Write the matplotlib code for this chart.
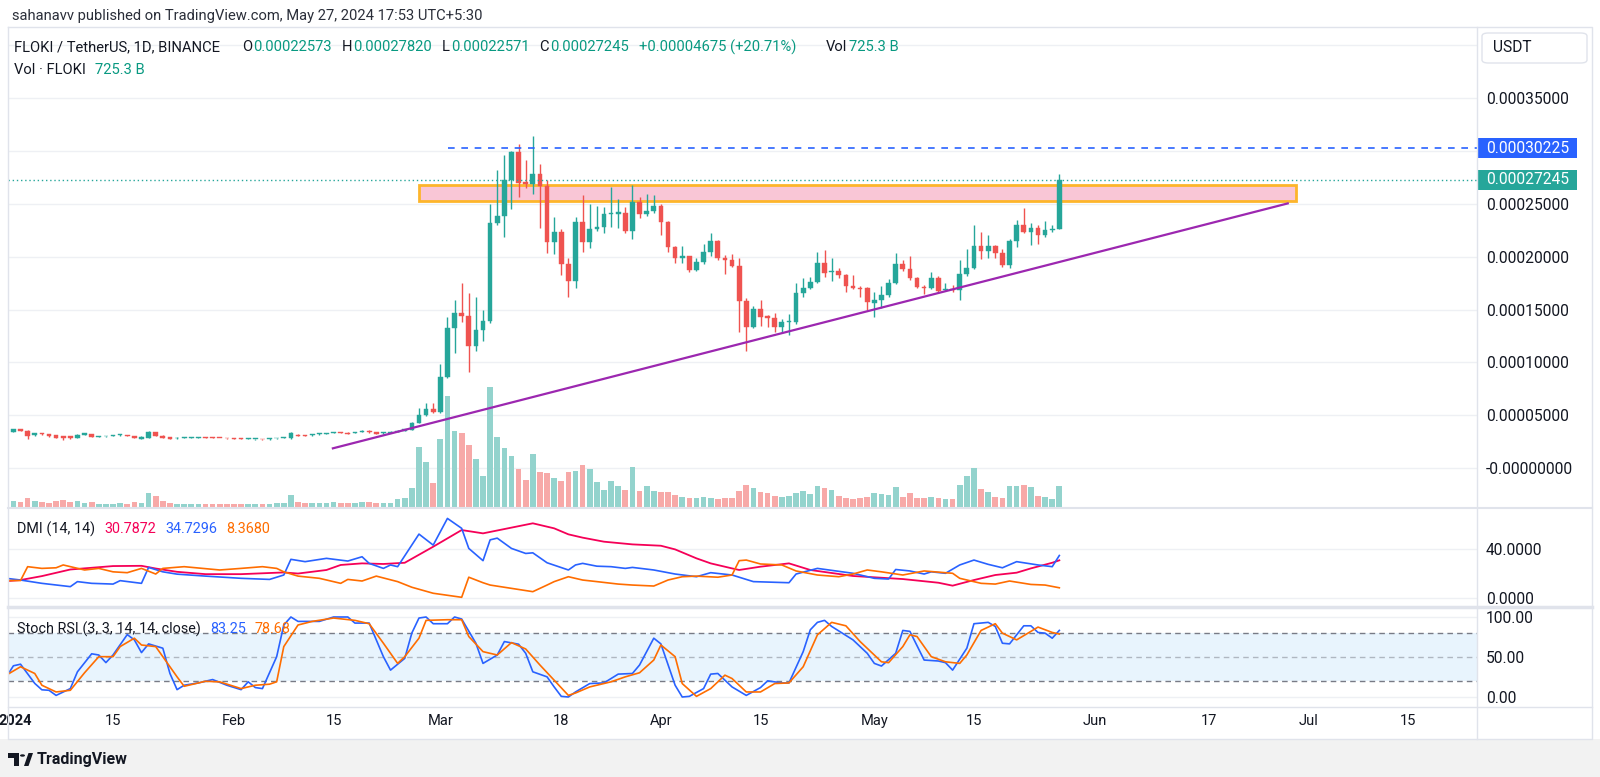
import matplotlib.pyplot as plt
from matplotlib.patches import Rectangle, FancyBboxPatch, Polygon, Circle
from matplotlib.lines import Line2D
from matplotlib.transforms import blended_transform_factory

plt.rcParams['font.family'] = ['Roboto', 'DejaVu Sans']

# ---- daily candles, day 0 = 1 Jan 2024, prices in 1e-6 USDT ----
opens = [34.6, 36.8, 35.2, 31.7, 33.0, 32.0, 31.4, 30.5, 30.5, 28.9,
         31.7, 32.4, 29.9, 30.2, 30.5, 31.1, 31.4, 30.5, 28.0, 28.6,
         33.9, 30.8, 29.2, 28.3, 28.9, 28.9, 29.0, 29.1, 28.8, 28.7,
         28.5, 28.3, 28.0, 27.6, 27.7, 27.8, 27.3, 28.2, 28.6, 28.3,
         31.7, 31.1, 31.1, 32.0, 32.4, 33.3, 34.2, 33.6, 33.3, 34.2,
         35.5, 33.9, 33.0, 33.6, 34.2, 35.5, 36.2, 43.1, 50.3, 55.7,
         53.2, 86.5, 132.2, 146.4, 144.1, 115.5, 130.6, 138.8, 231.9, 238.3,
         272.3, 298.4, 270.1, 268.5, 277.9, 266.9, 214.0, 223.2, 192.7, 176.9,
         232.3, 214.0, 226.0, 227.6, 239.9, 240.5, 241.0, 224.1, 251.8, 239.9,
         243.3, 248.0, 232.9, 208.7, 198.9, 200.4, 187.3, 195.1, 204.6, 215.0,
         198.3, 197.0, 191.3, 158.0, 133.2, 150.2, 143.8, 142.2, 133.2, 138.0,
         138.0, 165.8, 170.6, 175.7, 193.6, 185.5, 186.0, 182.5, 172.4, 170.5,
         170.0, 155.8, 158.9, 163.7, 175.3, 192.7, 187.9, 179.4, 171.5, 170.0,
         179.4, 168.0, 169.2, 168.0, 183.5, 188.9, 209.9, 205.5, 209.9, 203.6,
         192.0, 214.9, 229.8, 222.9, 226.7, 220.3, 225.0, 225.73]
highs = [37.5, 37.5, 35.8, 33.5, 33.6, 32.5, 31.8, 31.0, 31.0, 32.0,
         33.5, 32.8, 31.0, 31.0, 31.3, 32.4, 31.8, 30.8, 30.2, 35.5,
         34.3, 31.1, 29.5, 29.2, 29.2, 29.4, 29.4, 29.3, 29.2, 29.1,
         28.9, 28.6, 28.4, 28.2, 28.0, 27.9, 28.5, 28.9, 29.5, 33.9,
         32.4, 31.5, 32.4, 33.3, 33.6, 34.6, 34.6, 34.0, 34.6, 35.8,
         35.8, 34.2, 34.6, 35.2, 35.8, 37.5, 43.5, 56.7, 61.4, 62.0,
         98.2, 142.6, 158.9, 174.7, 165.8, 161.5, 149.5, 249.6, 281.7, 295.9,
         300.0, 306.3, 291.2, 313.8, 287.4, 272.3, 237.6, 226.0, 198.3, 237.6,
         258.1, 249.3, 247.7, 247.1, 265.9, 254.0, 247.1, 267.5, 256.5, 259.0,
         258.1, 249.5, 234.0, 210.0, 210.2, 201.0, 198.9, 211.5, 221.9, 216.0,
         201.4, 202.1, 198.9, 161.1, 153.3, 158.9, 144.5, 146.4, 140.7, 145.7,
         174.7, 179.4, 181.0, 204.6, 206.2, 198.3, 188.9, 183.5, 182.5, 172.2,
         171.0, 166.8, 172.2, 178.5, 203.6, 196.7, 200.5, 180.5, 173.1, 185.7,
         181.6, 175.3, 173.1, 196.7, 206.8, 229.8, 223.4, 220.3, 211.0, 206.8,
         216.3, 234.5, 245.5, 231.9, 229.8, 233.5, 229.8, 278.20]
lows = [34.0, 35.0, 27.4, 30.5, 31.5, 30.0, 28.6, 26.7, 27.8, 28.5,
        31.2, 29.5, 29.5, 29.8, 30.2, 30.8, 30.3, 28.3, 27.6, 28.3,
        30.5, 28.3, 27.4, 27.7, 28.5, 28.5, 28.6, 28.4, 28.4, 28.3,
        27.9, 27.7, 27.4, 27.3, 27.2, 27.0, 27.1, 27.9, 28.4, 28.0,
        30.5, 30.2, 30.8, 31.7, 32.0, 33.0, 33.3, 32.0, 33.0, 33.9,
        33.6, 32.0, 32.7, 33.3, 34.0, 35.2, 36.0, 42.5, 49.5, 52.5,
        52.5, 85.5, 108.6, 138.5, 91.2, 110.8, 120.5, 137.0, 229.8, 218.7,
        244.6, 256.5, 264.4, 259.0, 226.6, 203.6, 202.1, 182.5, 161.5, 170.0,
        204.6, 207.8, 224.1, 222.5, 228.2, 227.2, 221.9, 216.3, 236.1, 238.3,
        241.4, 220.3, 204.6, 194.2, 193.6, 185.7, 186.0, 193.0, 200.5, 196.7,
        183.5, 190.4, 129.0, 110.8, 132.2, 134.4, 133.7, 129.0, 128.1, 125.9,
        136.0, 162.0, 169.0, 175.0, 180.4, 176.9, 180.0, 166.8, 169.0, 161.5,
        149.5, 143.2, 151.1, 162.0, 174.0, 186.5, 178.0, 170.0, 164.6, 169.0,
        165.8, 167.4, 167.0, 158.9, 182.0, 187.9, 197.4, 198.3, 198.3, 190.4,
        188.9, 208.7, 222.0, 210.9, 211.8, 218.7, 223.0, 225.71]
closes = [36.8, 35.2, 30.5, 33.0, 32.0, 30.5, 28.9, 28.9, 28.3, 31.7,
          33.0, 29.9, 30.8, 30.8, 31.1, 32.0, 30.5, 28.6, 29.9, 33.9,
          30.8, 28.6, 27.7, 28.9, 29.0, 29.0, 29.1, 28.8, 28.6, 28.5,
          28.2, 28.0, 27.6, 27.9, 27.8, 27.3, 28.2, 28.6, 29.2, 33.0,
          30.8, 30.5, 32.0, 33.0, 33.3, 34.2, 33.6, 32.4, 34.2, 35.5,
          33.9, 32.4, 34.2, 34.6, 35.5, 37.1, 43.1, 50.3, 55.7, 53.2,
          86.5, 132.2, 146.4, 144.1, 115.5, 130.6, 138.8, 231.9, 238.3, 272.3,
          298.4, 269.8, 268.5, 277.9, 266.9, 214.0, 223.2, 192.7, 176.9, 232.3,
          214.0, 226.0, 227.6, 239.9, 241.5, 241.8, 224.1, 251.8, 239.9, 243.3,
          248.0, 232.9, 208.7, 198.9, 200.4, 187.3, 195.1, 204.6, 215.0, 198.3,
          197.0, 191.3, 158.0, 133.2, 150.2, 143.2, 142.2, 133.2, 137.9, 139.0,
          165.8, 170.6, 175.7, 193.6, 184.7, 186.5, 182.5, 172.4, 170.0, 169.7,
          157.3, 158.9, 163.7, 175.3, 192.7, 187.9, 179.4, 170.9, 170.0, 179.4,
          167.7, 169.2, 168.0, 183.5, 188.9, 209.9, 205.5, 209.9, 203.6, 192.0,
          214.9, 229.8, 222.9, 226.7, 220.3, 225.0, 226.0, 272.45]
# volume, billions of FLOKI
volumes = [207, 173, 311, 207, 173, 138, 207, 242, 173, 207,
           138, 173, 104, 104, 104, 138, 104, 173, 138, 483,
           380, 207, 138, 104, 104, 104, 104, 104, 104, 104,
           104, 104, 104, 104, 104, 104, 104, 138, 138, 414,
           173, 138, 138, 138, 138, 173, 138, 138, 138, 173,
           173, 138, 138, 138, 276, 311, 656, 2070, 1553, 828,
           2346, 3830, 2622, 2553, 2139, 1656, 1070, 4140, 2415, 2036,
           1760, 1311, 932, 1829, 1208, 1173, 1000, 897, 1208, 1242,
           1449, 1311, 863, 587, 897, 725, 587, 1380, 552, 725,
           552, 518, 518, 414, 345, 311, 311, 345, 311, 276,
           311, 311, 552, 759, 656, 518, 483, 380, 345, 380,
           483, 552, 449, 725, 656, 587, 380, 311, 276, 311,
           345, 483, 449, 414, 690, 345, 483, 311, 311, 345,
           311, 276, 276, 759, 1070, 1346, 621, 518, 345, 311,
           725, 725, 759, 690, 380, 345, 276, 725.3]
days = list(range(len(closes)))

# ---- DMI (14, 14) ----
adx_days = [-1, 1, 4, 8, 11, 14, 18, 20, 23, 27, 32, 38, 40, 44, 46, 49, 52, 55, 59, 63,
            66, 73, 76, 78, 80, 83, 87, 91, 93, 96, 98, 101, 102, 105, 109, 112, 118, 125,
            130, 132, 135, 138, 141, 143, 146, 147]
adx_vals = [13.8, 14.7, 17.9, 23.3, 24.7, 26.1, 26.3, 24.1, 21.4, 19.5, 19.5, 20.9, 20.0,
            22.9, 27.0, 28.3, 27.8, 28.8, 41.9, 55.5, 52.8, 61.0, 56.9, 52.0, 49.3, 46.0,
            43.8, 42.7, 39.7, 32.4, 28.3, 24.2, 22.9, 25.6, 28.3, 22.9, 18.0, 15.5, 12.5,
            10.1, 14.7, 18.8, 20.7, 24.2, 28.8, 30.79]
pdi_days = [-1, 1, 4, 8, 9, 11, 14, 15, 18, 19, 21, 23, 27, 32, 36, 38, 39, 41, 44, 47,
            49, 50, 52, 53, 54, 57, 59, 61, 63, 64, 66, 67, 68, 70, 72, 73, 75, 78, 79, 80,
            82, 84, 86, 87, 90, 93, 96, 98, 101, 104, 109, 110, 113, 118, 121, 123, 124, 126,
            128, 129, 131, 133, 135, 137, 139, 141, 144, 146, 147]
pdi_vals = [16.1, 14.7, 12.0, 9.3, 13.4, 12.0, 11.4, 14.2, 12.0, 25.0, 21.4, 19.5, 17.9,
            16.1, 15.2, 18.8, 31.6, 29.7, 32.4, 30.2, 33.7, 28.3, 24.2, 27.0, 25.6, 52.2,
            43.2, 65.0, 56.9, 40.5, 30.5, 47.5, 48.9, 40.5, 36.4, 36.9, 28.8, 22.9, 27.0,
            28.3, 26.0, 25.6, 24.2, 25.0, 22.9, 19.6, 17.4, 20.7, 18.8, 13.4, 12.5, 19.6,
            24.2, 20.2, 16.1, 15.5, 23.3, 22.1, 19.6, 21.4, 20.2, 27.0, 31.0, 27.5, 24.7,
            29.7, 27.0, 25.6, 34.73]
mdi_days = [-1, 1, 2, 4, 6, 7, 10, 12, 14, 16, 18, 20, 21, 24, 29, 32, 35, 37, 38, 40,
            43, 46, 47, 49, 51, 54, 56, 59, 63, 64, 66, 67, 70, 73, 75, 76, 78, 80, 82, 85,
            87, 90, 92, 94, 96, 99, 101, 102, 103, 105, 108, 110, 113, 116, 118, 120, 122,
            125, 128, 132, 133, 136, 138, 140, 143, 145, 147]
mdi_vals = [14.3, 14.3, 25.6, 24.2, 24.7, 27.0, 22.9, 24.2, 21.4, 20.7, 24.2, 19.6, 24.2,
            25.6, 22.9, 24.2, 25.6, 24.2, 21.4, 17.9, 16.1, 12.0, 15.2, 13.9, 17.9, 13.4,
            8.8, 3.9, 0.6, 17.0, 12.5, 10.6, 7.9, 5.2, 10.6, 13.4, 17.4, 14.7, 13.4, 11.4,
            10.6, 9.8, 14.7, 17.4, 17.9, 17.0, 18.8, 30.5, 31.0, 27.8, 27.0, 22.1, 18.8,
            17.4, 19.6, 22.9, 21.4, 18.8, 22.1, 20.2, 16.1, 12.0, 11.4, 13.9, 11.1, 10.6, 8.37]

# ---- Stoch RSI (3, 3, 14, 14, close) ----
k_days = [-1, 0, 1, 3, 4, 5, 6, 8, 9, 11, 12, 13, 14, 16, 17, 18, 19, 21, 22, 23,
          24, 26, 28, 30, 32, 33, 34, 35, 37, 38, 39, 40, 43, 45, 47, 48, 50, 52, 53, 55,
          56, 57, 58, 59, 61, 62, 63, 65, 66, 68, 69, 71, 72, 73, 75, 76, 77, 78, 79, 81,
          83, 85, 87, 88, 90, 91, 93, 94, 95, 97, 98, 99, 101, 103, 105, 106, 108, 109, 111, 112,
          113, 114, 115, 118, 120, 121, 122, 124, 125, 126, 128, 130, 131, 132, 134, 135, 137, 138, 139, 140,
          142, 143, 144, 145, 146, 147]
k_vals = [25, 39, 41, 17, 9, 8.4, 2, 10.5, 31.5, 54, 52.5, 43, 52.5, 78, 71.4, 55.5, 66.4, 61, 29.4, 9.2,
          14.7, 17.6, 21.8, 14.7, 9.2, 19, 11.8, 10.5, 50.4, 90, 100, 94.5, 94.5, 100, 100, 92.4, 92.4, 50.4, 33.6, 48.3,
          80, 98.7, 100, 91.6, 91.6, 100, 97.5, 67.2, 42, 52.5, 69.3, 66, 54.6, 31.5, 25.2, 12.6, 0.8, 0, 6.3, 16.8,
          17.6, 28.6, 29.4, 40, 73.5, 66.4, 14.7, 0, 0.8, 10.5, 28.6, 29.4, 12.6, 2, 11.8, 20.2, 17.6, 17.6, 56.7, 84,
          93.3, 95.8, 88.2, 71.4, 54.6, 42, 38.7, 54.6, 83.2, 82, 46.2, 45, 42.9, 33.6, 61, 91.6, 93.3, 88.2, 67.2, 66.4,
          89, 89, 80.7, 79.8, 73.5, 83.25]
d_days = [-1, 1, 3, 4, 6, 8, 10, 12, 14, 15, 17, 18, 20, 21, 23, 24, 27, 29, 32, 34,
          36, 37, 38, 40, 42, 45, 48, 50, 52, 54, 55, 57, 58, 61, 63, 64, 66, 68, 70, 72,
          74, 76, 78, 79, 81, 84, 86, 88, 90, 91, 93, 94, 96, 98, 100, 101, 103, 105, 107, 109,
          111, 113, 115, 117, 119, 122, 123, 125, 126, 127, 129, 131, 133, 134, 136, 138, 139, 141, 143, 144,
          146, 147]
d_vals = [27.3, 37.8, 29.4, 14.7, 6.3, 8.4, 30.3, 50.4, 50.4, 63, 73.5, 65, 63, 50.4, 25.2, 13.4, 19.7, 18.9, 10.5, 14.7,
          16, 19, 63, 90, 94.5, 98.7, 95.8, 91.6, 67.2, 42, 50.4, 73.5, 95.8, 96.6, 96.6, 75.6, 56.7, 52.5, 68, 60,
          40, 21, 2, 5, 12.6, 19, 25.2, 30.3, 46.2, 65, 50.4, 16.8, 0.8, 10.5, 27.3, 23.1, 6.3, 6.3, 16.8, 17.6,
          37.8, 77.7, 93.3, 89, 69.3, 44, 42.9, 63, 77.7, 75.6, 50.4, 44, 42, 52.5, 83.2, 91.6, 79.8, 71.4, 82, 87.4,
          80.7, 78.68]

# ---- drawings ----
zone_low, zone_high = 252.7, 267.5
zone_start, zone_end = 57.0, 180.2
trend_days = [44.9, 179.1]
trend_prices = [18.9, 250.2]
resist_price, resist_start = 302.25, 61.1
last_close = 272.45

price_ticks = [0, 50, 100, 150, 200, 250, 350]
price_tick_labels = ['-0.00000000', '0.00005000', '0.00010000', '0.00015000',
                     '0.00020000', '0.00025000', '0.00035000']
grid_prices = [0, 50, 100, 150, 200, 250, 300, 350, 400]
xtick_days = [0.3, 14, 31, 45, 60, 77, 91, 105, 121, 135, 152, 168, 182, 196]
xtick_labels = ['2024', '15', 'Feb', '15', 'Mar', '18', 'Apr', '15', 'May', '15',
                'Jun', '17', 'Jul', '15']

UP, DOWN = '#26a69a', '#ef5350'
UP_V, DOWN_V = '#93d3cd', '#f7a9a8'
BLUE, ORANGE, PINK = '#2962ff', '#ff6d00', '#f50057'
DARK, TEAL = '#131722', '#089981'
GRID, BORDER = '#eef0f4', '#e0e3eb'
AX_FS, LEG_FS, HDR_FS = 11.2, 10.4, 10.6

W, H = 1600, 777
fig = plt.figure(figsize=(W / 100, H / 100), dpi=100)


def rect(x0, y0, x1, y1):
    return [x0 / W, 1 - y1 / H, (x1 - x0) / W, (y1 - y0) / H]


def px_line(xs, ys, **kw):
    fig.add_artist(Line2D([x / W for x in xs], [1 - y / H for y in ys],
                          transform=fig.transFigure, **kw))


def px_text(x, y, s, **kw):
    kw.setdefault('va', 'center')
    return fig.text(x / W, 1 - y / H, s, **kw)


def text_run(x, y, pieces, size):
    r = fig.canvas.get_renderer()
    for s, color, gap in pieces:
        x += gap
        t = px_text(x, y, s, color=color, fontsize=size)
        x += t.get_window_extent(r).width


XLIM = (-0.76, 205.7)

# footer band
fig.add_artist(Rectangle((0, 0), 1, (H - 739) / H, transform=fig.transFigure,
                         fc='#f2f2f2', ec='none', zorder=0))

ax_vol = fig.add_axes(rect(8, 27, 1477, 507))
ax = fig.add_axes(rect(8, 27, 1477, 507), sharex=ax_vol)
ax_dmi = fig.add_axes(rect(8, 508, 1477, 606), sharex=ax_vol)
ax_st = fig.add_axes(rect(8, 608, 1477, 706), sharex=ax_vol)
ax.set_zorder(ax_vol.get_zorder() + 1)
ax.patch.set_visible(False)

for a in (ax_vol, ax, ax_dmi, ax_st):
    for sp in a.spines.values():
        sp.set_visible(False)
    a.tick_params(axis='x', length=0, labelbottom=False)
ax_vol.set_yticks([])

# volume
vcol = [UP_V if c >= o else DOWN_V for o, c in zip(opens, closes)]
ax_vol.bar(days, volumes, width=0.8, color=vcol, zorder=2)
ax_vol.set_ylim(0, max(volumes) * 4)
gtrans = blended_transform_factory(ax_vol.transAxes, ax.transData)
for g in grid_prices:
    ax_vol.plot([0, 1], [g, g], transform=gtrans, color=GRID, lw=1, zorder=0)

# candles
ccol = [UP if c >= o else DOWN for o, c in zip(opens, closes)]
ax.add_patch(Rectangle((zone_start, zone_low), zone_end - zone_start, zone_high - zone_low,
                       fc='#f9c6d6', ec='#fdb52b', lw=2, zorder=2))
ax.vlines(days, lows, highs, colors=ccol, lw=1, zorder=3)
body_low = [min(o, c) for o, c in zip(opens, closes)]
body_h = [max(abs(c - o), 0.7) for o, c in zip(opens, closes)]
ax.bar(days, body_h, bottom=body_low, width=0.66, color=ccol, edgecolor=ccol,
       lw=0.3, zorder=4)
ax.plot(trend_days, trend_prices, color='#9c27b0', lw=1.6, zorder=5)
ax.plot([resist_start, XLIM[1]], [resist_price] * 2, color=BLUE, lw=1.2,
        dashes=(4, 4), zorder=5)
ax.axhline(last_close, color=UP, lw=1, dashes=(1, 2), zorder=5)

ax.set_xlim(*XLIM)
ax.set_ylim(-36.5, 416.8)
ax.yaxis.tick_right()
ax.set_yticks(price_ticks, price_tick_labels)
ax.tick_params(axis='y', length=0, pad=6.5, labelsize=AX_FS, colors=DARK)

# price labels on the axis
ylo, yhi = ax.get_ylim()
ppx = (yhi - ylo) / 480
ltrans = blended_transform_factory(fig.transFigure, ax.transData)
for price, col in [(resist_price, BLUE), (last_close, UP)]:
    ax.add_patch(Rectangle((1477 / W, price - 10 * ppx), 100 / W, 20 * ppx,
                           transform=ltrans, fc=col, ec='none', clip_on=False, zorder=10))
    ax.text(1486 / W, price, f'{price * 1e-6:.8f}', transform=ltrans, color='white',
            fontsize=AX_FS, va='center', ha='left', clip_on=False, zorder=11)
ax.set_xlim(*XLIM)
ax.set_ylim(ylo, yhi)

# DMI
for g in (0, 40):
    ax_dmi.axhline(g, color=GRID, lw=1, zorder=0)
ax_dmi.plot(adx_days, adx_vals, color=PINK, lw=1.3)
ax_dmi.plot(pdi_days, pdi_vals, color=BLUE, lw=1.2)
ax_dmi.plot(mdi_days, mdi_vals, color=ORANGE, lw=1.2)
ax_dmi.set_ylim(-6.5, 73.5)
ax_dmi.yaxis.tick_right()
ax_dmi.set_yticks([0, 40], ['0.0000', '40.0000'])
ax_dmi.tick_params(axis='y', length=0, pad=6.5, labelsize=AX_FS, colors=DARK)

# Stoch RSI
for g in (0, 100):
    ax_st.axhline(g, color=GRID, lw=1, zorder=0)
ax_st.axhspan(20, 80, color='#2196f3', alpha=0.1, lw=0)
ax_st.axhline(80, color='#787b86', lw=1, dashes=(4, 3))
ax_st.axhline(20, color='#787b86', lw=1, dashes=(4, 3))
ax_st.axhline(50, color='#787b86', lw=1, dashes=(4, 3), alpha=0.5)
ax_st.plot(k_days, k_vals, color=BLUE, lw=1.2)
ax_st.plot(d_days, d_vals, color=ORANGE, lw=1.2)
ax_st.set_ylim(-11.25, 111.25)
ax_st.yaxis.tick_right()
ax_st.set_yticks([0, 50, 100], ['0.00', '50.00', '100.00'])
ax_st.tick_params(axis='y', length=0, pad=6.5, labelsize=AX_FS, colors=DARK)
ax_st.set_xticks(xtick_days, xtick_labels)
ax_st.tick_params(axis='x', labelbottom=True, length=0, pad=6, labelsize=10.5, colors=DARK)
ax_st.get_xticklabels()[0].set_fontweight('bold')
ax_st.set_xlim(*XLIM)

# frame and pane separators
px_line([8, 1592, 1592, 8, 8], [27, 27, 739, 739, 27], color=BORDER, lw=1)
px_line([1477, 1477], [27, 739], color=BORDER, lw=1)
px_line([8, 1592], [507.5, 507.5], color=BORDER, lw=1.5)
px_line([8, 1592], [607, 607], color=BORDER, lw=2.5)
px_line([8, 1592], [706.5, 706.5], color=BORDER, lw=1)

# USDT box
fig.add_artist(FancyBboxPatch((1482 / W, 1 - 63 / H), 105 / W, 30 / H,
                              boxstyle='round,pad=0,rounding_size=0.004',
                              transform=fig.transFigure, fc='white', ec=BORDER, lw=1))
px_text(1493, 47, 'USDT', color=DARK, fontsize=AX_FS)

# headers
px_text(12, 16, 'sahanavv published on TradingView.com, May 27, 2024 17:53 UTC+5:30',
        color='#2a2e39', fontsize=HDR_FS)
text_run(14, 47, [('FLOKI / TetherUS, 1D, BINANCE', DARK, 0),
                  ('O', DARK, 22), ('0.00022573', TEAL, 1),
                  ('H', DARK, 10), ('0.00027820', TEAL, 1),
                  ('L', DARK, 10), ('0.00022571', TEAL, 1),
                  ('C', DARK, 10), ('0.00027245', TEAL, 1),
                  ('+0.00004675 (+20.71%)', TEAL, 10),
                  ('Vol', DARK, 30), ('725.3 B', TEAL, 2)], HDR_FS)
text_run(14, 70, [('Vol · FLOKI', DARK, 0), ('725.3 B', TEAL, 9)], HDR_FS)
text_run(17, 529, [('DMI (14, 14)', DARK, 0), ('30.7872', PINK, 9),
                   ('34.7296', BLUE, 9), ('8.3680', ORANGE, 9)], LEG_FS)
text_run(17, 629, [('Stoch RSI (3, 3, 14, 14, close)', DARK, 0), ('83.25', BLUE, 9),
                   ('78.68', ORANGE, 9)], LEG_FS)

# TradingView footer logo
fig.add_artist(Polygon([(8 / W, 1 - 753 / H), (19 / W, 1 - 753 / H), (19 / W, 1 - 766 / H),
                        (14 / W, 1 - 766 / H), (14 / W, 1 - 758 / H), (8 / W, 1 - 758 / H)],
                       closed=True, transform=fig.transFigure, fc=DARK, ec='none'))
fig.add_artist(Circle((22.5 / W, 1 - 755.5 / H), 2.5 / W, transform=fig.transFigure,
                      fc=DARK, ec='none'))
fig.add_artist(Polygon([(24 / W, 1 - 766 / H), (28.5 / W, 1 - 753 / H), (33 / W, 1 - 753 / H),
                        (28.5 / W, 1 - 766 / H)], closed=True, transform=fig.transFigure,
                       fc=DARK, ec='none'))
px_text(37, 759.5, 'TradingView', color=DARK, fontsize=11.5, fontweight='bold')

fig.savefig('out.png', dpi=100)
